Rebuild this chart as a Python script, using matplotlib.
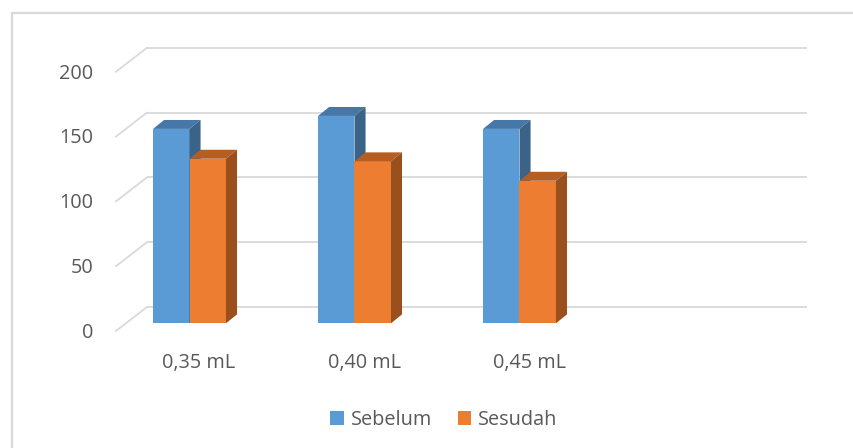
import matplotlib
matplotlib.use("Agg")
import matplotlib.pyplot as plt
from matplotlib.patches import Polygon, Rectangle, Patch

plt.rcParams['font.family'] = ['Open Sans', 'DejaVu Sans']

# Data
categories = ["0,35 mL", "0,40 mL", "0,45 mL"]
series_names = ["Sebelum", "Sesudah"]
sebelum = [150, 160, 150]
sesudah = [127, 125, 110]
y_ticks = [0, 50, 100, 150, 200]

# Colours (front, top, side)
blue = ("#5B9BD5", "#4777A6", "#3A6387")
orange = ("#ED7D31", "#B65D22", "#9A501D")
grid_col = "#D9D9D9"
text_col = "#595959"
font_size = 14.3

fig = plt.figure(figsize=(8.54, 4.48), dpi=100)
ax = fig.add_axes([0, 0, 1, 1])
ax.set_xlim(-1.1485, 4.0273)
ax.set_ylim(-96.2, 249.46)
ax.axis("off")

# Oblique projection of the 3D box
bar_w = 0.221          # bar width in category units
bar_dx, bar_dy = 0.067, 6.9      # depth of a single bar
wall_dy = 12.6                   # bar plane -> back wall (vertical shift)
floor_dx, floor_dy = 0.188, 18.5 # front edge -> back wall
wall_x0, wall_x1 = -0.2576, 3.742

# Back wall gridlines with their diagonal on the side wall
for v in y_ticks:
    yb = v + wall_dy
    ax.plot([wall_x0, wall_x1], [yb, yb], color=grid_col, lw=1.3,
            solid_capstyle="butt", zorder=1)
    ax.plot([wall_x0 - floor_dx, wall_x0], [yb - floor_dy, yb],
            color=grid_col, lw=1.3, zorder=1)
    ax.text(-0.5818, v - 7.4, str(v), ha="right", va="center",
            fontsize=font_size, color=text_col)


def draw_bar(x0, h, cols, z):
    front, top, side = cols
    x1 = x0 + bar_w
    ax.bar(x0, h, width=bar_w, align="edge", color=front,
           edgecolor="none", zorder=z)
    ax.add_patch(Polygon([(x0, h), (x1, h), (x1 + bar_dx, h + bar_dy),
                          (x0 + bar_dx, h + bar_dy)], closed=True,
                         facecolor=top, edgecolor="none", zorder=z))
    ax.add_patch(Polygon([(x1, 0), (x1, h), (x1 + bar_dx, h + bar_dy),
                          (x1 + bar_dx, bar_dy)], closed=True,
                         facecolor=side, edgecolor="none", zorder=z))


for i, (a, b) in enumerate(zip(sebelum, sesudah)):
    draw_bar(i - bar_w, a, blue, 3 + 2 * i)
    draw_bar(i, b, orange, 4 + 2 * i)
    ax.text(i + 0.058, -30.6, categories[i], ha="center", va="center",
            fontsize=font_size, color=text_col)

handles = [Patch(facecolor=blue[0]), Patch(facecolor=orange[0])]
leg = ax.legend(handles, series_names, loc="center", ncol=2,
                bbox_to_anchor=(444 / 854, 1 - 420 / 448), frameon=False,
                fontsize=font_size, handlelength=0.68, handleheight=0.68,
                handletextpad=0.35, columnspacing=1.3)
for t in leg.get_texts():
    t.set_color(text_col)

# Chart frame
fig.add_artist(Rectangle((12 / 854, -0.1), 1.0, 1.1 - 13 / 448,
                         transform=fig.transFigure, fill=False,
                         edgecolor=grid_col, lw=1.6))

fig.savefig("out.png", dpi=100)
